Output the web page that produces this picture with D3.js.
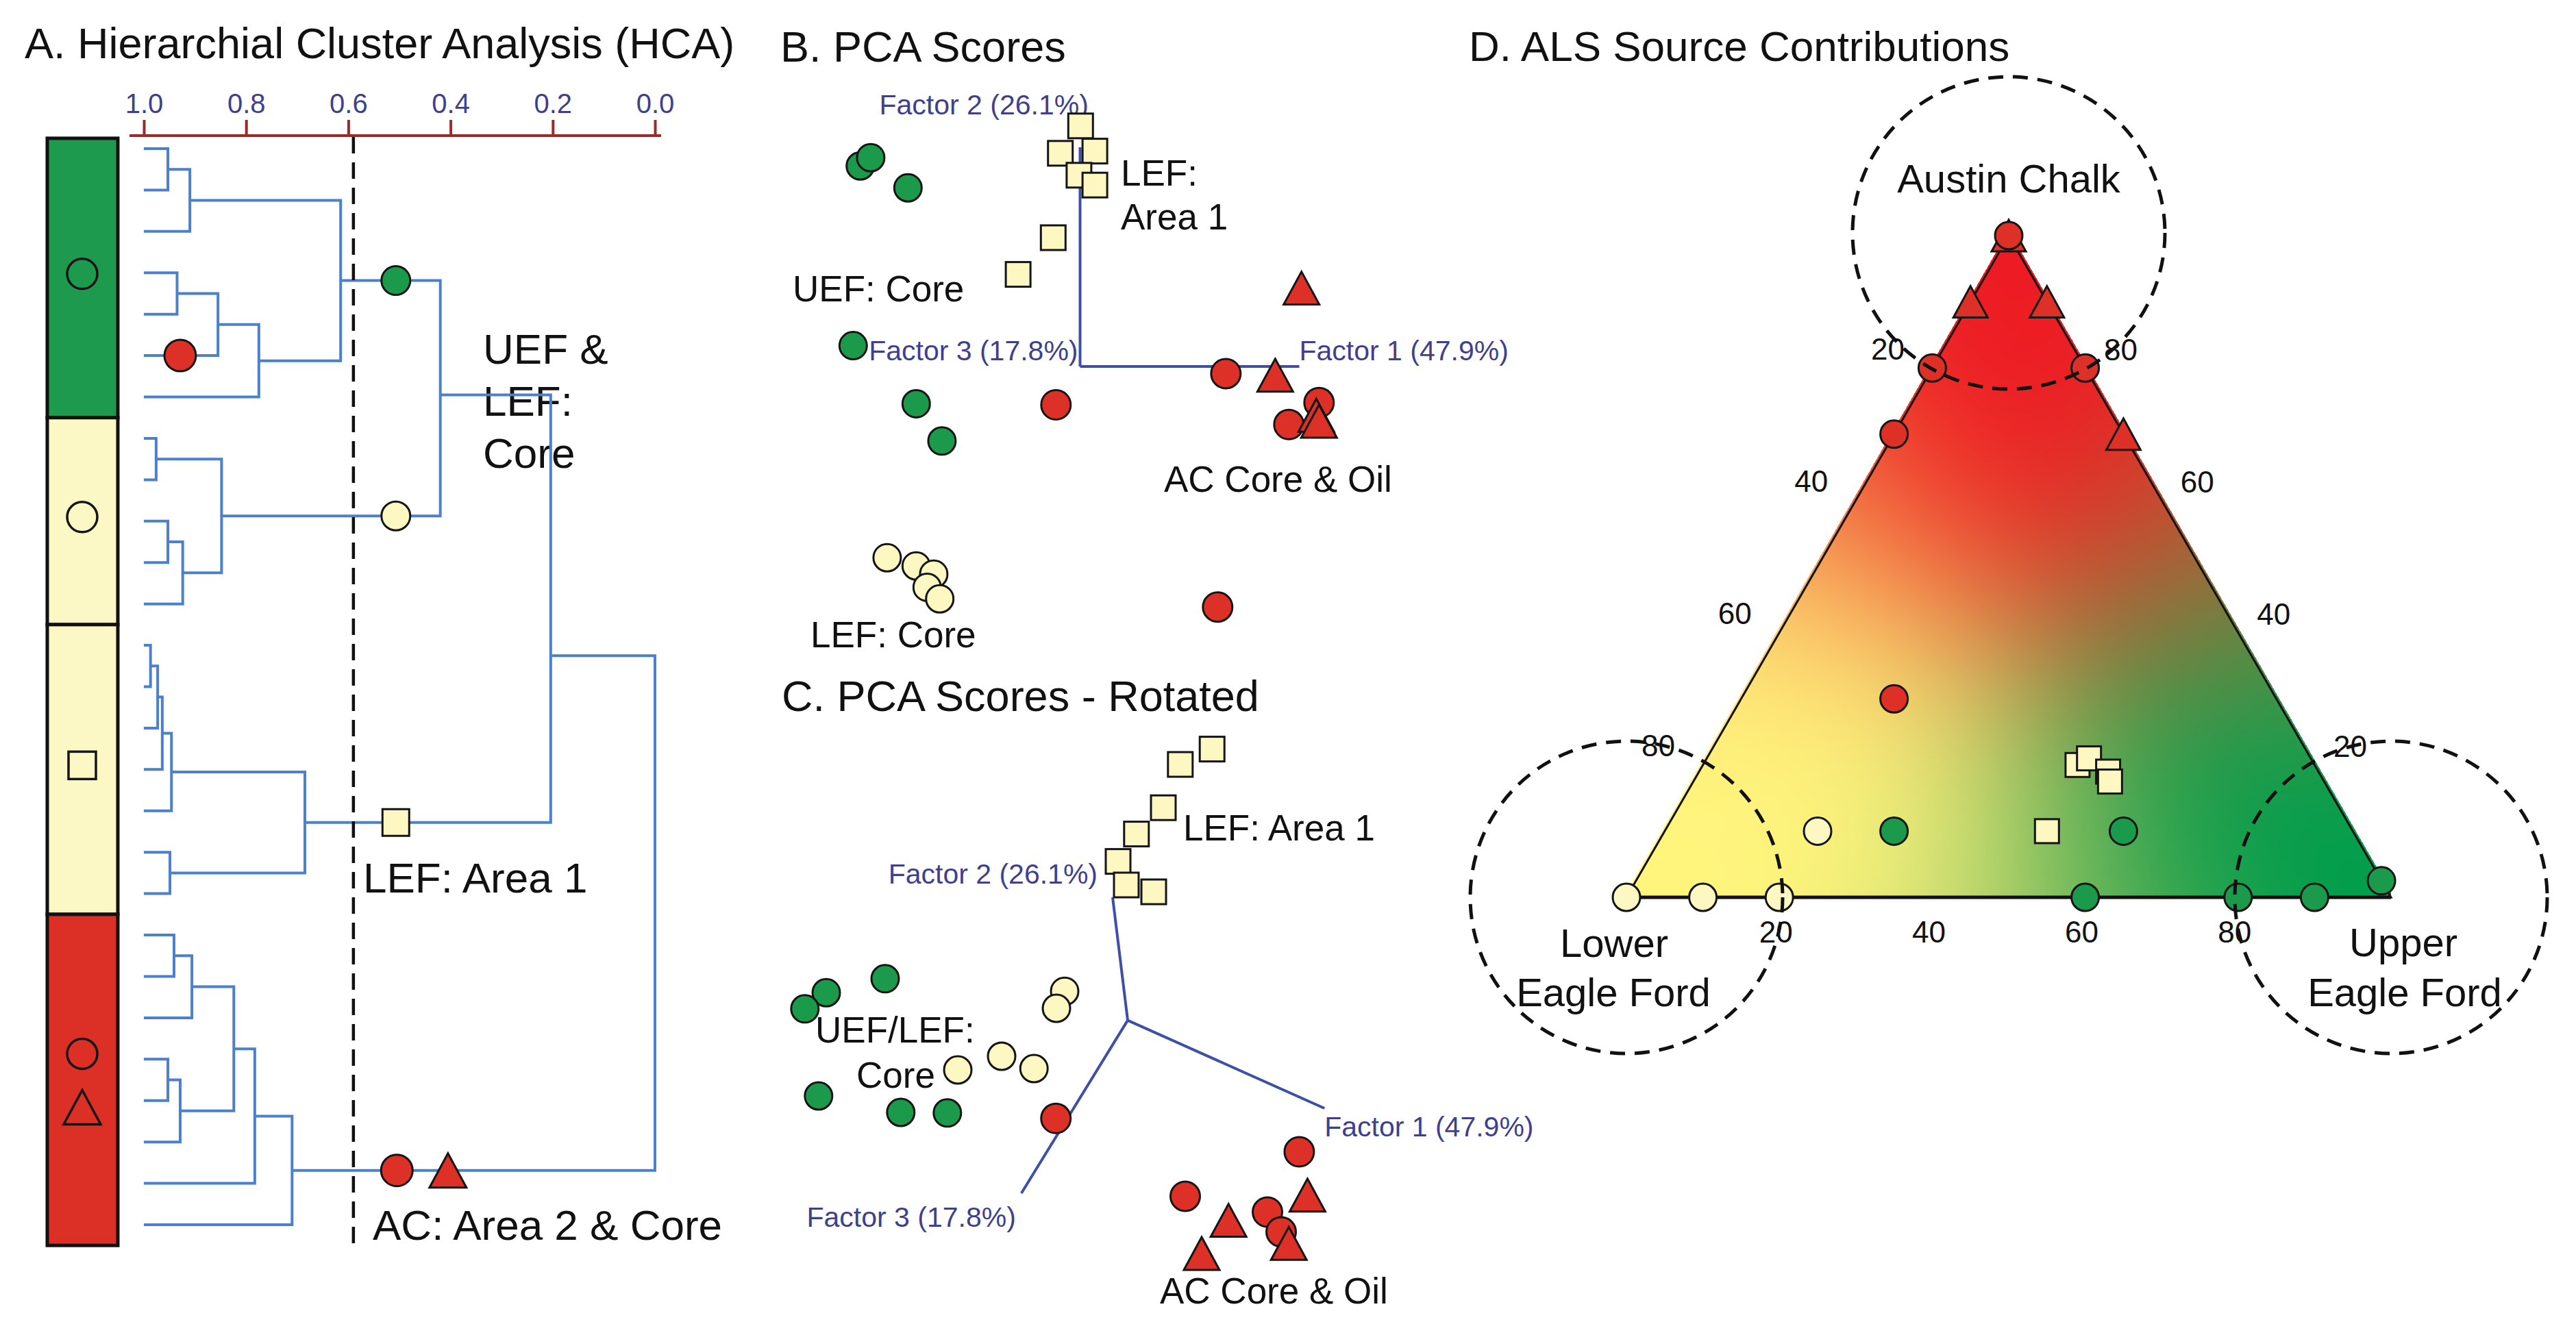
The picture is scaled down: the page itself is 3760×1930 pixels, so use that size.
<!DOCTYPE html>
<html><head><meta charset="utf-8">
<script src="https://cdn.jsdelivr.net/npm/d3@7"></script>
<style>html,body{margin:0;padding:0;background:#fff;} svg{display:block;}</style>
</head><body>
<svg id="chart" width="3760" height="1930"></svg>
<script>
// ================= DATA =================
// Panel A: HCA dendrogram
const hcaTicks = [1.0, 0.8, 0.6, 0.4, 0.2, 0.0];
const hcaCutoff = 0.59;
const hcaLeafGroups = ['UEF','UEF','UEF','UEF','UEF','UEF','UEF',
  'LEFc','LEFc','LEFc','LEFc','LEFc',
  'LEFa','LEFa','LEFa','LEFa','LEFa','LEFa','LEFa',
  'AC','AC','AC','AC','AC','AC','AC','AC'];
// merges: [childA, childB, similarity]; merge i gets id 'M'+(i+1)
const hcaMerges = [
  ['L1','L2',0.953], ['M1','L3',0.910], ['L4','L5',0.935], ['M3','L6',0.855], ['M4','L7',0.775], ['M2','M5',0.615],
  ['L8','L9',0.976], ['L10','L11',0.953], ['M8','L12',0.924], ['M7','M9',0.848], ['M6','M10',0.420],
  ['L13','L14',0.987], ['M12','L15',0.973], ['M13','L16',0.964], ['M14','L17',0.946], ['L18','L19',0.949], ['M15','M16',0.685],
  ['M11','M17',0.204],
  ['L20','L21',0.941], ['M19','L22',0.906], ['L23','L24',0.953], ['M21','L25',0.929], ['M20','M22',0.824], ['M23','L26',0.783], ['M24','L27',0.710],
  ['M18','M25',0.0]
];
// drawn slot (in leaf-order units) of merges that are not centred between their children
const hcaNodeSlots = [['M11', 5.95], ['M18', 12.25]];
const hcaNodeMarkers = [['M6',0.507,'circle','UEF'],['M10',0.507,'circle','LEFc'],['M17',0.507,'square','LEFa'],['M25',0.505,'circle','AC'],['M25',0.405,'triangle','AC']];
const hcaLeafMarkers = [['L6',0.929,'circle','AC']];
const hcaBarGroups = [['UEF',0,6,['circle']],['LEFc',7,11,['circle']],['LEFa',12,18,['square']],['AC',19,26,['circle','triangle']]];

// Panel B: PCA scores (projected plot units)
const pcaB_UEF = [[-4.01,3.66],[-3.82,3.81],[-3.14,3.26],[-4.14,0.38],[-2.99,-0.68],[-2.52,-1.36]];
const pcaB_LEFcore = [[-3.52,-3.49],[-2.99,-3.64],[-2.67,-3.79],[-2.79,-4.03],[-2.56,-4.24]];
const pcaB_LEFarea = [[0.01,4.39],[-0.36,3.89],[0.27,3.93],[-0.02,3.49],[0.27,3.31],[-0.49,2.35],[-1.13,1.68]];
const pcaB_ACcore = [[-0.44,-0.70],[2.66,-0.13],[4.36,-0.66],[3.81,-1.06],[2.51,-4.39]];
const pcaB_ACoil = [[4.04,1.43],[3.56,-0.16],[4.31,-0.89],[4.36,-1.0]];
const pcaB_axes = [['Factor 1 (47.9%)',4,0],['Factor 2 (26.1%)',0,4],['Factor 3 (17.8%)',0,0]];

// Panel C: PCA scores rotated
const pcaC_UEF = [[-4.425,0.76],[-5.5,0.505],[-5.89,0.21],[-5.64,-1.38],[-4.14,-1.68],[-3.29,-1.69]];
const pcaC_LEFcore = [[-1.15,0.53],[-1.3,0.22],[-2.3,-0.655],[-3.1,-0.905],[-1.71,-0.88]];
const pcaC_LEFarea = [[1.54,4.95],[0.96,4.67],[0.65,3.88],[0.16,3.40],[-0.175,2.90],[-0.025,2.47],[0.475,2.345]];
const pcaC_ACcore = [[-1.31,-1.79],[3.13,-2.4],[1.05,-3.21],[2.55,-3.5],[2.8,-3.86]];
const pcaC_ACoil = [[3.28,-3.19],[1.84,-3.65],[1.35,-4.255],[2.94,-4.07]];
const pcaC_axes = [['Factor 1 (47.9%)',3.59,-1.605],['Factor 2 (26.1%)',-0.275,2.245],['Factor 3 (17.8%)',-1.94,-3.155]];

// Panel D: ALS source contributions (%): [AC, LEF, UEF, shape, group]
const alsPoints = [
  [100,0,0,'triangle','AC'], [100,0,0,'circle','AC'],
  [90,10,0,'triangle','AC'], [90,0,10,'triangle','AC'],
  [80,20,0,'circle','AC'], [80,0,20,'circle','AC'],
  [70,30,0,'circle','AC'], [70,0,30,'triangle','AC'],
  [30,50,20,'circle','AC'],
  [20,31,49,'square','LEFa'], [21,29,50,'square','LEFa'], [19,27.5,53.5,'square','LEFa'], [17.5,28,54.5,'square','LEFa'],
  [10,70,20,'circle','LEFc'], [10,60,30,'circle','UEF'], [10,40,50,'square','LEFa'], [10,30,60,'circle','UEF'],
  [0,100,0,'circle','LEFc'], [0,90,10,'circle','LEFc'], [0,80,20,'circle','LEFc'],
  [0,40,60,'circle','UEF'], [0,20,80,'circle','UEF'], [0,10,90,'circle','UEF'], [2.5,0,97.5,'circle','UEF']
];
const ternTicks = [20, 40, 60, 80];

// ================= STYLE =================
const FONT = '"Liberation Sans", Arial, Helvetica, sans-serif';
const fillOf = {UEF:'#1c9a4c', LEFc:'#fdf8c2', LEFa:'#fdf8c2', AC:'#dd3128'};
const barFill = {UEF:'#1e9a4e', LEFc:'#fcf8c5', LEFa:'#fcf8c5', AC:'#dc3027'};
const NAVY = '#3f3f8f', AXBLUE = '#3e4fa8', DENDRO = '#4b80cf', AXRED = '#9b2a2a';

const svg = d3.select('#chart').attr('font-family', FONT);
svg.append('rect').attr('width',3760).attr('height',1930).attr('fill','#fff');

function txt(g, s, x, y, size, o={}) {
  return g.append('text').attr('x',x).attr('y',y).attr('font-size',size)
    .attr('fill', o.fill||'#111').attr('text-anchor', o.anchor||'start')
    .attr('dominant-baseline', o.baseline||'auto').text(s);
}
function marker(g, shape, x, y, fill, sz) {
  let m;
  if (shape==='circle') m = g.append('circle').attr('cx',x).attr('cy',y).attr('r',sz.r);
  else if (shape==='square') m = g.append('rect').attr('x',x-sz.sq/2).attr('y',y-sz.sq/2).attr('width',sz.sq).attr('height',sz.sq);
  else m = g.append('path').attr('d',`M${x},${y-sz.th/2}L${x+sz.tw/2},${y+sz.th/2}L${x-sz.tw/2},${y+sz.th/2}Z`).attr('stroke-linejoin','miter');
  m.attr('fill',fill).attr('stroke','#151515').attr('stroke-width',sz.sw);
  return m;
}

// ================= PANEL A =================
const gA = svg.append('g');
txt(gA, 'A. Hierarchial Cluster Analysis (HCA)', 36, 85, 63);
const xA = d3.scaleLinear().domain([1,0]).range([210,956]);
const yA = d3.scaleLinear().domain([0,26]).range([217,1788]);

const axA = d3.axisTop(xA).tickValues(hcaTicks).tickFormat(d3.format('.1f')).tickSize(23).tickSizeOuter(0).tickPadding(10);
const gAx = gA.append('g').attr('transform','translate(0,198)').call(axA);
gAx.attr('font-size',40).attr('font-family',FONT);
gAx.select('.domain').attr('d','M189,0H965').attr('stroke',AXRED).attr('stroke-width',4);
gAx.selectAll('.tick line').attr('stroke',AXRED).attr('stroke-width',4);
gAx.selectAll('.tick text').attr('fill',NAVY);

// colored bar
hcaBarGroups.forEach(([grp,s,e,syms],gi)=>{
  const top = gi===0 ? yA(s-0.25) : yA(s-0.5);
  const bot = yA(e+0.5);
  gA.append('rect').attr('x',69).attr('y',top).attr('width',103).attr('height',bot-top)
    .attr('fill',barFill[grp]).attr('stroke','#111').attr('stroke-width',5);
  const mid = (top+bot)/2;
  const sz = {r:22, sq:40, tw:54, th:50, sw:3.5};
  syms.forEach((sh,k)=>{
    const yy = syms.length===1 ? mid-6 : mid + (k===0?-38:40);
    marker(gA, sh, 120, yy, 'none', sz);
  });
});

// labels (drawn before lines)
txt(gA,'UEF &',705,531,62); txt(gA,'LEF:',705,607,62); txt(gA,'Core',705,683,62);
txt(gA,'LEF: Area 1',530,1303,62);
txt(gA,'AC: Area 2 & Core',544,1810,62);

// dendrogram
const slotOf = new Map(hcaNodeSlots);
const nodes = {};
hcaLeafGroups.forEach((g,i)=>{ nodes['L'+(i+1)] = {y:yA(i), h:1.0}; });
hcaMerges.forEach((m,i)=>{
  const id = 'M'+(i+1);
  const a = nodes[m[0]], b = nodes[m[1]];
  nodes[id] = {y: slotOf.has(id) ? yA(slotOf.get(id)) : (a.y+b.y)/2, h:m[2]};
  gA.append('path')
    .attr('d',`M${xA(a.h)},${a.y}H${xA(m[2])}V${b.y}H${xA(b.h)}`)
    .attr('fill','none').attr('stroke',DENDRO).attr('stroke-width',4);
});
// cutoff line
gA.append('line').attr('x1',xA(hcaCutoff)).attr('x2',xA(hcaCutoff)).attr('y1',200).attr('y2',1818)
  .attr('stroke','#111').attr('stroke-width',4.5).attr('stroke-dasharray','24,13');
hcaLeafMarkers.forEach(([id,v,sh,grp])=> marker(gA, sh, xA(v), nodes[id].y, fillOf[grp], {r:23,sq:39,tw:52,th:50,sw:3}));
hcaNodeMarkers.forEach(([id,v,sh,grp])=> marker(gA, sh, xA(v), nodes[id].y, fillOf[grp], {r: grp==='AC'?23:21, sq:39, tw:54, th:50, sw:3}));

// ================= PANEL B & C =================
const sz2 = {r:20, sq:36, tw:52, th:48, sw:3};
const szRed = {r:21.5, sq:36, tw:52, th:48, sw:3};

// B
const gB = svg.append('g');
txt(gB, 'B. PCA Scores', 1139, 90, 63);
const xB = d3.scaleLinear().domain([0,1]).range([1576.5,1656.5]);
const yB = d3.scaleLinear().domain([0,1]).range([535,455]);
pcaB_axes.forEach(([lab,ax,ay])=>{
  gB.append('line').attr('x1',xB(0)).attr('y1',yB(0)).attr('x2',xB(ax)).attr('y2',yB(ay))
    .attr('stroke',AXBLUE).attr('stroke-width',4);
});
txt(gB, pcaB_axes[0][0], xB(pcaB_axes[0][1]), yB(pcaB_axes[0][2])-9, 41, {fill:NAVY});
txt(gB, pcaB_axes[1][0], xB(pcaB_axes[1][1])-293, yB(pcaB_axes[1][2])-48, 41, {fill:NAVY});
txt(gB, pcaB_axes[2][0], xB(pcaB_axes[2][1])-3, yB(pcaB_axes[2][2])-9, 41, {fill:NAVY, anchor:'end'});
txt(gB,'LEF:',1636,271,53); txt(gB,'Area 1',1636,335,53);
txt(gB,'UEF: Core',1157,440,53);
txt(gB,'AC Core & Oil',1699,718,53);
txt(gB,'LEF: Core',1183,945,53);
pcaB_UEF.forEach(p=>marker(gB,'circle',xB(p[0]),yB(p[1]),fillOf.UEF,sz2));
pcaB_LEFcore.forEach(p=>marker(gB,'circle',xB(p[0]),yB(p[1]),fillOf.LEFc,sz2));
pcaB_LEFarea.forEach(p=>marker(gB,'square',xB(p[0]),yB(p[1]),fillOf.LEFa,sz2));
pcaB_ACcore.forEach(p=>marker(gB,'circle',xB(p[0]),yB(p[1]),fillOf.AC,szRed));
pcaB_ACoil.forEach(p=>marker(gB,'triangle',xB(p[0]),yB(p[1]),fillOf.AC,szRed));

// C
const gC = svg.append('g');
txt(gC, 'C. PCA Scores - Rotated', 1141, 1038, 63);
const xC = d3.scaleLinear().domain([0,1]).range([1646,1726]);
const yC = d3.scaleLinear().domain([0,1]).range([1489.6,1409.6]);
pcaC_axes.forEach(([lab,ax,ay])=>{
  gC.append('line').attr('x1',xC(0)).attr('y1',yC(0)).attr('x2',xC(ax)).attr('y2',yC(ay))
    .attr('stroke',AXBLUE).attr('stroke-width',4);
});
txt(gC, pcaC_axes[0][0], xC(pcaC_axes[0][1]), yC(pcaC_axes[0][2])+41, 41, {fill:NAVY});
txt(gC, pcaC_axes[1][0], xC(pcaC_axes[1][1])-22, yC(pcaC_axes[1][2])-20, 41, {fill:NAVY, anchor:'end'});
txt(gC, pcaC_axes[2][0], xC(pcaC_axes[2][1])-8, yC(pcaC_axes[2][2])+49, 41, {fill:NAVY, anchor:'end'});
txt(gC,'LEF: Area 1',1727,1227,53);
txt(gC,'UEF/LEF:',1190,1522,53); txt(gC,'Core',1250,1588,53);
txt(gC,'AC Core & Oil',1693,1903,53);
pcaC_UEF.forEach(p=>marker(gC,'circle',xC(p[0]),yC(p[1]),fillOf.UEF,sz2));
pcaC_LEFcore.forEach(p=>marker(gC,'circle',xC(p[0]),yC(p[1]),fillOf.LEFc,sz2));
pcaC_LEFarea.forEach(p=>marker(gC,'square',xC(p[0]),yC(p[1]),fillOf.LEFa,sz2));
pcaC_ACcore.forEach(p=>marker(gC,'circle',xC(p[0]),yC(p[1]),fillOf.AC,szRed));
pcaC_ACoil.forEach(p=>marker(gC,'triangle',xC(p[0]),yC(p[1]),fillOf.AC,szRed));

// ================= PANEL D =================
const gD = svg.append('g');
txt(gD, 'D. ALS Source Contributions', 2144, 89, 62);
// x from (UEF - LEF), y from AC
const ternX = d3.scaleLinear().domain([-100,100]).range([2374,3490]);
const ternY = d3.scaleLinear().domain([0,100]).range([1310,344]);
const tpos = (a,l,u)=>[ternX(u-l), ternY(a)];
const T = tpos(100,0,0), L = tpos(0,100,0), R = tpos(0,0,100);

// gradient fill (barycentric colour blend)
(function(){
  const x0 = Math.floor(L[0]), x1 = Math.ceil(R[0]), y0 = Math.floor(T[1]), y1 = Math.ceil(L[1]);
  const cw = x1-x0, ch = y1-y0;
  const cv = document.createElement('canvas'); cv.width = cw; cv.height = ch;
  const ctx = cv.getContext('2d'); const img = ctx.createImageData(cw, ch); const d = img.data;
  const G = 1.6, P = 2.5;
  const lin = c => c.map(v => Math.pow(v/255, G));
  const cA = lin([237,28,36]), cL = lin([255,245,125]), cU = lin([0,158,76]);
  for (let py=0; py<ch; py++) {
    const a = ternY.invert(y0+py+0.5)/100;
    for (let px=0; px<cw; px++) {
      const dd = ternX.invert(x0+px+0.5)/100;
      const u = (1-a+dd)/2, l = (1-a-dd)/2;
      const k = 4*(py*cw+px);
      if (a < -0.004 || u < -0.004 || l < -0.004) { d[k+3]=0; continue; }
      const wa = Math.pow(Math.max(a,0),P), wl = Math.pow(Math.max(l,0),P), wu = Math.pow(Math.max(u,0),P);
      const s = wa+wl+wu || 1;
      for (let c=0;c<3;c++) d[k+c] = 255*Math.pow((wa*cA[c]+wl*cL[c]+wu*cU[c])/s, 1/G);
      d[k+3] = 255;
    }
  }
  ctx.putImageData(img,0,0);
  gD.append('image').attr('x',x0).attr('y',y0).attr('width',cw).attr('height',ch)
    .attr('href', cv.toDataURL());
})();
gD.append('path').attr('d',`M${T[0]},${T[1]}L${R[0]},${R[1]}L${L[0]},${L[1]}Z`)
  .attr('fill','none').attr('stroke','#111').attr('stroke-width',3).attr('stroke-linejoin','miter');
gD.append('line').attr('x1',L[0]).attr('y1',L[1]).attr('x2',R[0]).attr('y2',R[1]).attr('stroke','#111').attr('stroke-width',5);

// tick labels
ternTicks.forEach(v=>{
  const pl = tpos(100-v, v, 0);       // left edge: LEF %
  txt(gD, v, pl[0]-65, pl[1]-28, 44, {anchor:'middle', baseline:'central'});
  const pr = tpos(v, 0, 100-v);       // right edge: AC %
  txt(gD, v, pr[0]+52, pr[1]-27, 44, {anchor:'middle', baseline:'central'});
  const pb = tpos(0, 100-v, v);       // base: UEF %
  txt(gD, v, pb[0]-5, pb[1]+50, 44, {anchor:'middle', baseline:'central'});
});

// points
const szD = {r:20, sq:35, tw:50, th:46, sw:3};
alsPoints.forEach(([a,l,u,sh,grp])=>{
  const p = tpos(a,l,u);
  marker(gD, sh, p[0], p[1], fillOf[grp], szD);
});

// dashed source circles
[T,L,R].forEach(c=>{
  gD.append('circle').attr('cx',c[0]).attr('cy',c[1]-(c===T?4:0)).attr('r',228)
    .attr('fill','none').attr('stroke','#111').attr('stroke-width',5).attr('stroke-dasharray','22,14');
});
txt(gD,'Austin Chalk',T[0],281,58,{anchor:'middle'});
txt(gD,'Lower',L[0]-18,1397,58,{anchor:'middle'});
txt(gD,'Eagle Ford',L[0]-19,1469,58,{anchor:'middle'});
txt(gD,'Upper',R[0]+18,1396,58,{anchor:'middle'});
txt(gD,'Eagle Ford',R[0]+20,1469,58,{anchor:'middle'});
</script>
</body></html>
